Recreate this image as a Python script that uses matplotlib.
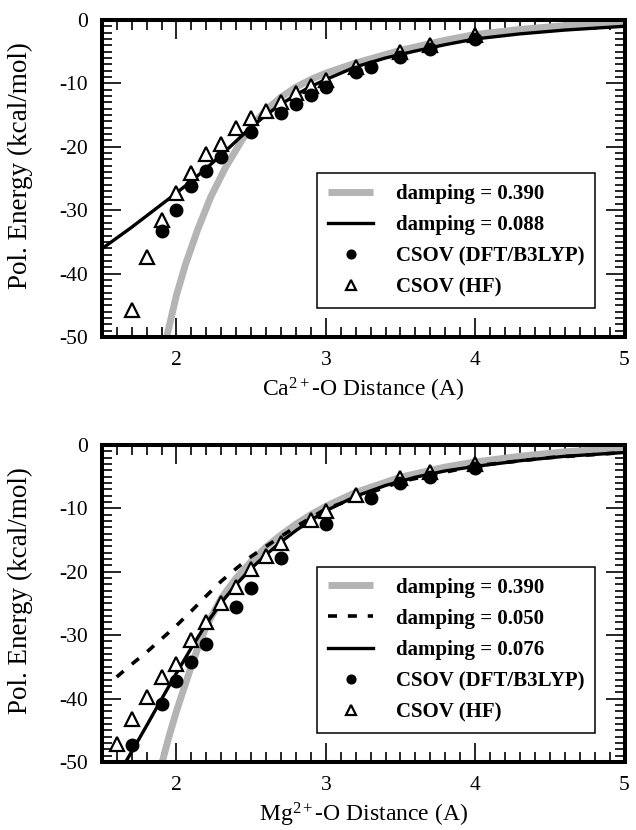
import matplotlib
matplotlib.use("Agg")
import matplotlib.pyplot as plt
from matplotlib.ticker import MultipleLocator

# ---- Ca2+ panel ----
ca_hf_x = [1.7, 1.8, 1.9, 2.0, 2.1, 2.2, 2.3, 2.4, 2.5, 2.6, 2.7, 2.8, 2.9, 3.0, 3.2, 3.5, 3.7, 4.0]
ca_hf_y = [-45.8, -37.4, -31.6, -27.3, -24.2, -21.2, -19.6, -17.1, -15.4, -14.4, -12.9, -11.5,
           -10.4, -9.4, -7.4, -5.1, -4.0, -2.4]

ca_dft_x = [1.9, 2.0, 2.1, 2.2, 2.3, 2.5, 2.7, 2.8, 2.9, 3.0, 3.2, 3.3, 3.5, 3.7, 4.0]
ca_dft_y = [-33.3, -29.9, -26.2, -23.9, -21.6, -17.7, -14.7, -13.2, -11.8, -10.5, -8.2, -7.4,
            -5.9, -4.6, -3.0]

ca_d390_x = [1.935, 2.0, 2.06, 2.14, 2.23, 2.33, 2.44, 2.52, 2.6, 2.7, 2.8, 2.9, 3.0, 3.2, 3.5,
             3.8, 4.0, 4.3, 4.6, 5.0]
ca_d390_y = [-50.0, -43.4, -38.6, -33.2, -27.9, -23.2, -18.9, -16.3, -14.2, -12.2, -10.6, -9.4,
             -8.4, -6.8, -4.8, -3.2, -2.3, -1.5, -0.9, -0.4]

ca_d088_x = [1.5, 1.6, 1.7, 1.8, 1.9, 2.0, 2.1, 2.2, 2.3, 2.4, 2.5, 2.6, 2.7, 2.8, 2.9, 3.0,
             3.2, 3.4, 3.6, 3.8, 4.0, 4.3, 4.6, 5.0]
ca_d088_y = [-36.1, -34.4, -32.7, -30.9, -29.1, -27.3, -25.4, -23.4, -21.3, -19.1, -16.9, -15.0,
             -13.3, -11.8, -10.5, -9.4, -7.4, -6.0, -4.9, -3.9, -3.0, -2.2, -1.6, -1.0]

# ---- Mg2+ panel ----
mg_hf_x = [1.6, 1.7, 1.8, 1.9, 2.0, 2.1, 2.2, 2.3, 2.4, 2.5, 2.6, 2.7, 2.9, 3.0, 3.2, 3.5, 3.7, 4.0]
mg_hf_y = [-47.1, -43.3, -39.7, -36.6, -34.6, -30.7, -27.9, -25.0, -22.4, -19.5, -17.5, -15.5,
           -11.8, -10.4, -7.9, -5.2, -4.2, -3.0]

mg_dft_x = [1.7, 1.9, 2.0, 2.1, 2.2, 2.4, 2.5, 2.7, 3.0, 3.3, 3.5, 3.7, 4.0]
mg_dft_y = [-47.4, -40.8, -37.3, -34.2, -31.4, -25.5, -22.6, -17.9, -12.4, -8.3, -6.0, -5.0, -3.6]

mg_d390_x = [1.905, 1.95, 2.0, 2.05, 2.1, 2.15, 2.2, 2.3, 2.4, 2.5, 2.6, 2.7, 2.8, 2.9, 3.0,
             3.2, 3.5, 3.8, 4.0, 4.3, 4.6, 5.0]
mg_d390_y = [-50.0, -46.0, -42.0, -38.4, -34.9, -31.6, -28.6, -24.2, -21.0, -18.4, -16.1, -14.2,
             -12.5, -11.0, -9.7, -7.5, -5.1, -3.5, -2.7, -1.8, -1.1, -0.5]

mg_d050_x = [1.6, 1.7, 1.8, 1.9, 2.0, 2.1, 2.2, 2.3, 2.4, 2.5, 2.6, 2.8, 3.0, 3.5, 4.0, 4.5, 5.0]
mg_d050_y = [-36.6, -34.6, -32.7, -30.6, -28.5, -26.2, -23.8, -21.5, -19.5, -17.6, -16.0, -12.9,
             -10.1, -5.8, -3.3, -2.0, -1.2]

mg_d076_x = [1.66, 1.7, 1.8, 1.9, 2.0, 2.1, 2.2, 2.3, 2.4, 2.5, 2.6, 2.7, 2.8, 2.9, 3.0, 3.2,
             3.4, 3.6, 3.8, 4.0, 4.3, 4.6, 5.0]
mg_d076_y = [-50.0, -48.4, -44.3, -40.1, -36.0, -32.0, -28.2, -24.9, -22.0, -19.5, -17.3, -15.3,
             -13.5, -11.9, -10.4, -8.1, -6.4, -5.1, -4.1, -3.4, -2.5, -1.8, -1.2]

plt.rcParams['font.family'] = ['Liberation Serif', 'DejaVu Serif']
plt.rcParams['mathtext.fontset'] = 'custom'
plt.rcParams['mathtext.rm'] = 'Liberation Serif'
plt.rcParams['mathtext.it'] = 'Liberation Serif:italic'
plt.rcParams['axes.unicode_minus'] = False

GRAY = '#b4b4b4'


def style_axes(ax, xlabel):
    ax.set_xlim(1.5, 5)
    ax.set_ylim(-50, 0)
    ax.xaxis.set_major_locator(MultipleLocator(1))
    ax.xaxis.set_minor_locator(MultipleLocator(0.1))
    ax.yaxis.set_major_locator(MultipleLocator(10))
    ax.yaxis.set_minor_locator(MultipleLocator(1))
    ax.tick_params(which='both', direction='in', top=True, right=True,
                   width=1.2, labelsize=15.5, pad=10)
    ax.tick_params(which='major', length=14)
    ax.tick_params(which='minor', length=7)
    for sp in ax.spines.values():
        sp.set_linewidth(2.9)
    ax.set_xlabel(xlabel, fontsize=17, labelpad=4)
    ax.set_ylabel('Pol. Energy (kcal/mol)', fontsize=19.5)
    ax.yaxis.set_label_coords(-0.132, 0.54)


def add_points(ax, hx, hy, dx, dy):
    tri, = ax.plot(hx, hy, linestyle='none', marker='^', markersize=9.5,
                   markerfacecolor='white', markeredgecolor='black',
                   markeredgewidth=1.6, zorder=4, label='CSOV (HF)')
    dot, = ax.plot(dx, dy, linestyle='none', marker='o', markersize=9,
                   color='black', zorder=5, label='CSOV (DFT/B3LYP)')
    return dot, tri


def add_legend(ax, handles):
    leg = ax.legend(handles=handles, loc='lower right', bbox_to_anchor=(0.944, 0.0915),
                    borderaxespad=0, prop={'weight': 'bold', 'size': 15},
                    fancybox=False, edgecolor='black', framealpha=1,
                    handlelength=2.2, handletextpad=1.1, borderpad=0.5,
                    labelspacing=0.54, markerscale=0.7)
    leg.get_frame().set_linewidth(1.1)


fig = plt.figure(figsize=(6.36, 8.3), dpi=100)
ax1 = fig.add_axes([0.160, 0.594, 0.822, 0.382])
ax2 = fig.add_axes([0.160, 0.082, 0.822, 0.382])

# top panel
g1, = ax1.plot(ca_d390_x, ca_d390_y, color=GRAY, lw=5, solid_capstyle='butt',
               label='damping = 0.390', zorder=2)
b1, = ax1.plot(ca_d088_x, ca_d088_y, color='black', lw=2.4, label='damping = 0.088', zorder=3)
dot1, tri1 = add_points(ax1, ca_hf_x, ca_hf_y, ca_dft_x, ca_dft_y)
style_axes(ax1, 'Ca$^{2+}$-O Distance (A)')
add_legend(ax1, [g1, b1, dot1, tri1])

# bottom panel
g2, = ax2.plot(mg_d390_x, mg_d390_y, color=GRAY, lw=5, solid_capstyle='butt',
               label='damping = 0.390', zorder=2)
d2, = ax2.plot(mg_d050_x, mg_d050_y, color='black', lw=2.6, dashes=(2.5, 3.0),
               label='damping = 0.050', zorder=3)
b2, = ax2.plot(mg_d076_x, mg_d076_y, color='black', lw=2.4, label='damping = 0.076', zorder=3)
dot2, tri2 = add_points(ax2, mg_hf_x, mg_hf_y, mg_dft_x, mg_dft_y)
style_axes(ax2, 'Mg$^{2+}$-O Distance (A)')
add_legend(ax2, [g2, d2, b2, dot2, tri2])

fig.savefig("out.png", dpi=100)
